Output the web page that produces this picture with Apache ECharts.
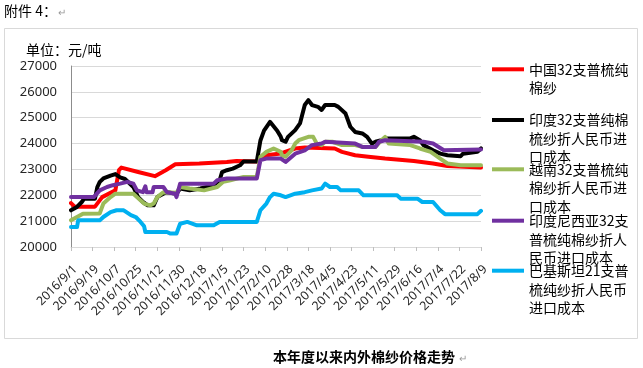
<!DOCTYPE html>
<html>
<head>
<meta charset="utf-8">
<script src="https://cdn.jsdelivr.net/npm/echarts@6/dist/echarts.min.js"></script>
<style>
html,body{margin:0;padding:0;background:#fff;}
#c{width:643px;height:368px;}
</style>
</head>
<body>
<div id="c"></div>
<script>
// x values are day offsets from 2016/9/1
const tickLabels = ['2016/9/1','2016/9/19','2016/10/7','2016/10/25','2016/11/12','2016/11/30','2016/12/18','2017/1/5','2017/1/23','2017/2/10','2017/2/28','2017/3/18','2017/4/5','2017/4/23','2017/5/11','2017/5/29','2017/6/16','2017/7/4','2017/7/22','2017/8/9'];

const seriesNames = [
  '中国32支普梳纯棉纱',
  '印度32支普纯棉梳纱折人民币进口成本',
  '越南32支普梳纯棉纱折人民币进口成本',
  '印度尼西亚32支普梳纯棉纱折人民币进口成本',
  '巴基斯坦21支普梳纯纱折人民币进口成本'
];
const legendLines = [
  ['中国32支普梳纯','棉纱'],
  ['印度32支普纯棉','梳纱折人民币进','口成本'],
  ['越南32支普梳纯','棉纱折人民币进','口成本'],
  ['印度尼西亚32支','普梳纯棉纱折人','民币进口成本'],
  ['巴基斯坦21支普','梳纯纱折人民币','进口成本']
];

const chinaRed = [[0,21700],[3,21560],[20,21560],[26,21930],[37,22190],[40,22970],[42,23070],[56,22900],[70,22740],[79,22970],[87,23200],[107,23230],[130,23290],[138,23330],[155,23310],[163,23550],[175,23620],[187,23810],[195,23850],[220,23810],[226,23680],[237,23550],[248,23490],[262,23420],[286,23330],[302,23230],[314,23130],[342,23070]];

const indiaBlack = [[0,21420],[5,21550],[9,21740],[11,21870],[20,21870],[22,22320],[24,22520],[27,22650],[33,22760],[37,22820],[38,22880],[41,22690],[45,22630],[52,22320],[56,21930],[60,21740],[64,21610],[69,21610],[72,21930],[77,22060],[80,22120],[88,22060],[91,22260],[99,22190],[108,22260],[119,22390],[124,22580],[126,22900],[130,22970],[135,23030],[141,23160],[144,23310],[155,23310],[158,24120],[161,24500],[166,24840],[172,24500],[175,24260],[176,24130],[179,24070],[181,24260],[187,24520],[191,24780],[195,25490],[198,25680],[201,25490],[206,25420],[209,25300],[212,25490],[220,25490],[223,25420],[229,25160],[233,24650],[237,24450],[243,24390],[247,24260],[251,24000],[254,24070],[259,24130],[264,24200],[283,24200],[286,24260],[291,24130],[294,23940],[302,23740],[308,23610],[314,23550],[325,23510],[327,23610],[339,23680],[342,23810]];

const vietnamGreen = [[0,21030],[5,21160],[10,21290],[24,21300],[27,21680],[33,21930],[37,22060],[52,22060],[55,21930],[61,21680],[66,21610],[69,21680],[72,21930],[77,22120],[88,22100],[91,22320],[99,22260],[111,22190],[122,22320],[127,22520],[133,22580],[144,22710],[155,22710],[158,23490],[163,23680],[169,23810],[175,23680],[176,23550],[179,23490],[184,23740],[187,24000],[190,24130],[198,24260],[202,24260],[205,24000],[209,23940],[212,24070],[218,24070],[226,23940],[237,23940],[243,23870],[254,23870],[259,24130],[262,24260],[265,24000],[283,23940],[291,23810],[300,23680],[308,23420],[314,23230],[325,23160],[342,23160]];

const indonesiaPurple = [[0,21930],[19,21930],[24,22190],[30,22320],[35,22390],[41,22450],[47,22520],[52,22450],[55,22190],[60,22120],[62,22350],[63,22120],[68,22120],[69,22320],[77,22320],[80,22120],[87,22060],[88,21930],[91,22450],[119,22450],[122,22580],[130,22650],[155,22650],[158,23360],[163,23420],[175,23420],[179,23290],[187,23610],[195,23740],[201,23940],[209,24000],[212,24070],[237,24000],[243,23870],[254,23870],[257,24070],[262,24130],[294,24070],[302,24000],[311,23740],[342,23770]];

const pakistanBlue = [[0,20770],[5,20770],[6,21030],[24,21030],[27,21160],[33,21350],[38,21420],[44,21420],[50,21230],[54,21160],[58,20970],[61,20800],[62,20580],[80,20580],[83,20520],[88,20520],[91,20900],[97,20970],[105,20840],[119,20840],[124,20970],[155,20970],[158,21420],[163,21680],[166,21930],[169,22060],[175,22000],[179,21930],[187,22060],[195,22120],[201,22190],[209,22260],[212,22450],[216,22320],[222,22320],[225,22190],[240,22190],[244,22000],[272,22000],[275,21870],[289,21870],[293,21740],[302,21740],[308,21420],[312,21270],[339,21270],[342,21400]];

const allData = [chinaRed, indiaBlack, vietnamGreen, indonesiaPurple, pakistanBlue];
const colors = ['#ff0000','#000000','#9bbb59','#7030a0','#00b0f0'];
const legendCenters = [69.3, 120, 169.3, 220.7, 270.7];

const FONT = '"Noto Sans CJK SC", "Noto Sans", sans-serif';
const LATIN = '"Noto Sans", sans-serif';
const LH = 18.5;

const chart = echarts.init(document.getElementById('c'), null, {renderer: 'canvas'});

const legends = seriesNames.map((name, i) => {
  const n = legendLines[i].length;
  const H = (2 * n - 1) * LH;
  return {
    data: [name],
    left: 492,
    top: legendCenters[i] - H / 2,
    padding: 0,
    orient: 'vertical',
    selectedMode: false,
    itemWidth: 32,
    itemHeight: 4,
    icon: 'rect',
    formatter: () => new Array(n - 1).fill(' ').concat(legendLines[i]).join('\n'),
    textStyle: {fontFamily: FONT, fontSize: 14, color: '#000', lineHeight: LH}
  };
});

const option = {
  animation: false,
  backgroundColor: '#fff',
  grid: {left: 71, right: 162, top: 66, bottom: 121, containLabel: false},
  legend: legends,
  xAxis: {
    type: 'value', min: 0, max: 342, interval: 18,
    axisLine: {show: true, lineStyle: {color: '#d9d9d9', width: 1}},
    axisTick: {show: true, length: 4, lineStyle: {color: '#bfbfbf'}},
    splitLine: {show: false},
    axisLabel: {
      rotate: 45, margin: 16, align: 'right', verticalAlign: 'top',
      fontFamily: LATIN, fontSize: 12.3, color: '#262626',
      formatter: v => tickLabels[Math.round(v / 18)] || ''
    }
  },
  yAxis: {
    type: 'value', min: 20000, max: 27000, interval: 1000,
    axisLine: {show: true, lineStyle: {color: '#8c8c8c', width: 1}},
    axisTick: {show: false},
    splitLine: {show: true, lineStyle: {color: '#d9d9d9', width: 1}},
    axisLabel: {margin: 14, fontFamily: LATIN, fontSize: 13, color: '#262626', formatter: v => String(v)}
  },
  series: seriesNames.map((name, i) => ({
    name, type: 'line', data: allData[i], showSymbol: false, symbol: 'none',
    lineStyle: {color: colors[i], width: 4, join: 'round', cap: 'round'},
    itemStyle: {color: colors[i]},
    z: 2 + i
  })),
  graphic: [
    {type: 'rect', shape: {x: 4.5, y: 28.5, width: 633, height: 310}, style: {fill: 'none', stroke: '#d9d9d9', lineWidth: 1}, z: -10},
    {type: 'text', style: {x: 4, y: 11, text: '附件 4：', font: '14px ' + FONT, fill: '#000', verticalAlign: 'middle'}},
    {type: 'text', style: {x: 58, y: 12, text: '↵', font: '10px ' + FONT, fill: '#999', verticalAlign: 'middle'}},
    {type: 'text', style: {x: 26, y: 50, text: '单位：元/吨', font: '14px ' + FONT, fill: '#000', verticalAlign: 'middle'}},
    {type: 'text', style: {x: 273, y: 357, text: '本年度以来内外棉纱价格走势', font: 'bold 14px ' + FONT, fill: '#000', verticalAlign: 'middle'}},
    {type: 'text', style: {x: 459, y: 358, text: '↵', font: '10px ' + FONT, fill: '#999', verticalAlign: 'middle'}}
  ]
};
chart.setOption(option);
</script>
</body>
</html>
